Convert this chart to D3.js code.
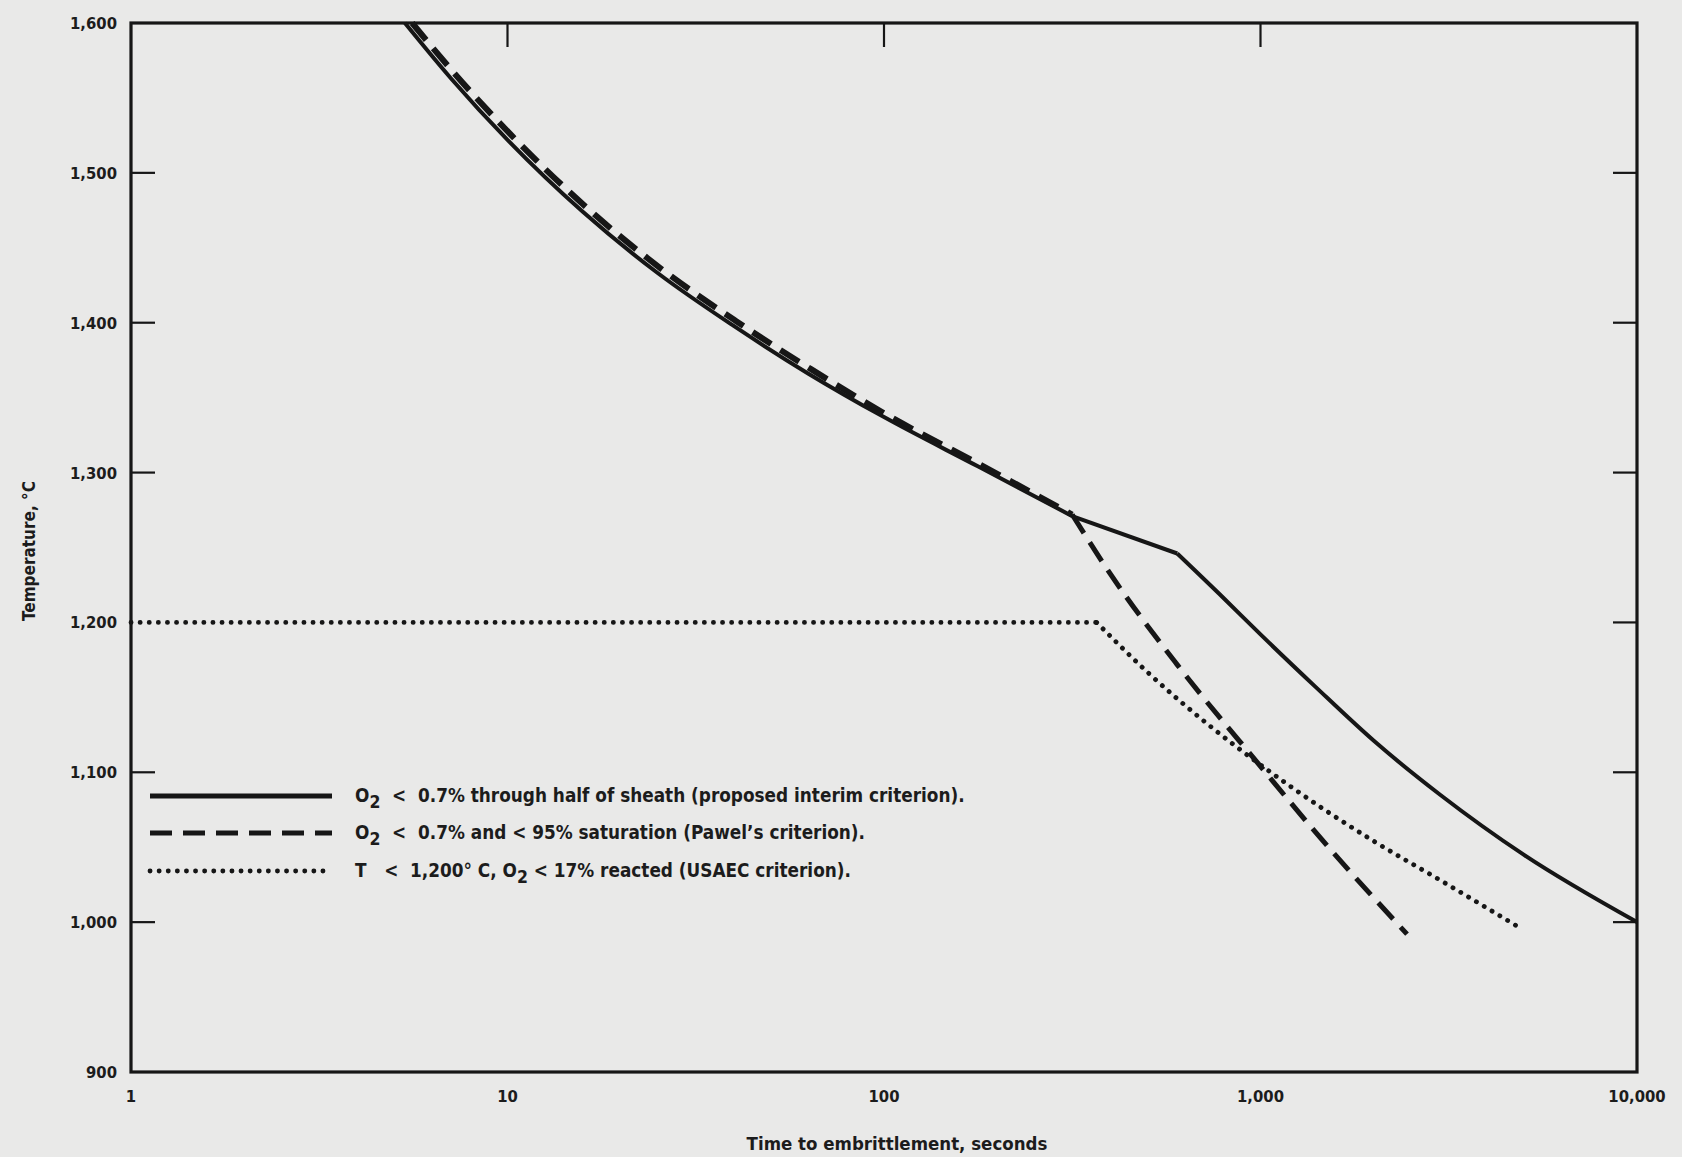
<!DOCTYPE html>
<html>
<head>
<meta charset="utf-8">
<script src="https://cdn.jsdelivr.net/npm/d3@7"></script>
<style>
body { margin: 0; background: #e9e9e8; }
svg text { font-family: "DejaVu Sans Condensed", "Liberation Sans Narrow", "Roboto Condensed", sans-serif; font-weight: bold; fill: #1c1c1c; white-space: pre; }
</style>
</head>
<body>
<div id="chart"></div>
<script>
// tick values
var xTicks = [1, 10, 100, 1000, 10000];
var xTickLabels = ["1", "10", "100", "1,000", "10,000"];
var yTicks = [900, 1000, 1100, 1200, 1300, 1400, 1500, 1600];
var yTickLabels = ["900", "1,000", "1,100", "1,200", "1,300", "1,400", "1,500", "1,600"];

// solid: O2 < 0.7% through half of sheath  [seconds, degC]
var solidUpper = [[5.34,1600],[7.08,1563],[10,1522],[15.85,1474],[25.1,1433],[39.8,1398],[63,1366],[100,1337],[178,1304],[316,1271]];
var solidMiddle = [[316,1271],[601,1246]];
var solidLower = [[601,1246],[800,1216],[1000,1192],[1400,1157],[2000,1121],[3000,1085],[5000,1045],[10000,1000]];

// dashed: Pawel's criterion
var dashedUpper = [[5.58,1600],[7.25,1566],[10.25,1525],[16.2,1477],[25.6,1436],[40.5,1401],[64,1369],[101,1339],[178,1306],[316,1272]];
var dashedLower = [[316,1272],[400,1232],[600,1172],[1000,1104],[1400,1060],[2450,992]];

// dotted: USAEC criterion
var dottedFlat = [[1,1200],[367,1200]];
var dottedLower = [[367,1200],[500,1167],[750,1129],[1000,1105],[1500,1074],[2000,1054],[3000,1028],[4900,996]];

var legendItems = [
    {dash: null, parts: [["O"], ["2", "sub"], ["  <  0.7% through half of sheath (proposed interim criterion)."]]},
    {dash: "22,11", parts: [["O"], ["2", "sub"], ["  <  0.7% and < 95% saturation (Pawel\u2019s criterion)."]]},
    {dash: "0.1,9", parts: [["T   <  1,200\u00b0 C, O"], ["2", "sub"], [" < 17% reacted (USAEC criterion)."]]}
];

var W = 1682, H = 1157;
var margin = {left: 131, right: 45, top: 23, bottom: 85};

var svg = d3.select("#chart").append("svg")
    .attr("width", W)
    .attr("height", H);

svg.append("rect").attr("width", W).attr("height", H).attr("fill", "#e9e9e8");

var x = d3.scaleLog().domain([1, 10000]).range([margin.left, W - margin.right]);
var y = d3.scaleLinear().domain([900, 1600]).range([H - margin.bottom, margin.top]);

var ink = "#161616";

// frame
svg.append("rect")
    .attr("x", x(1)).attr("y", y(1600))
    .attr("width", x(10000) - x(1)).attr("height", y(900) - y(1600))
    .attr("fill", "none").attr("stroke", ink).attr("stroke-width", 3.2);

// inward ticks (left 1,200 tick sits under the dotted line)
var tickLen = 24;
svg.append("g").selectAll("line")
    .data([1000, 1100, 1300, 1400, 1500]).enter().append("line")
    .attr("x1", x(1)).attr("x2", x(1) + tickLen)
    .attr("y1", function(d){ return y(d); }).attr("y2", function(d){ return y(d); })
    .attr("stroke", ink).attr("stroke-width", 2.2);

svg.append("g").selectAll("line")
    .data(yTicks.slice(1, -1)).enter().append("line")
    .attr("x1", x(10000)).attr("x2", x(10000) - tickLen)
    .attr("y1", function(d){ return y(d); }).attr("y2", function(d){ return y(d); })
    .attr("stroke", ink).attr("stroke-width", 2.2);

svg.append("g").selectAll("line")
    .data(xTicks.slice(1, -1)).enter().append("line")
    .attr("x1", function(d){ return x(d); }).attr("x2", function(d){ return x(d); })
    .attr("y1", y(1600)).attr("y2", y(1600) + tickLen)
    .attr("stroke", ink).attr("stroke-width", 2.2);

// tick labels
svg.append("g").selectAll("text")
    .data(yTicks).enter().append("text")
    .attr("x", x(1) - 14)
    .attr("y", function(d){ return y(d) + 6; })
    .attr("text-anchor", "end")
    .attr("font-size", 16.5)
    .text(function(d, i){ return yTickLabels[i]; });

svg.append("g").selectAll("text")
    .data(xTicks).enter().append("text")
    .attr("x", function(d){ return x(d); })
    .attr("y", y(900) + 30)
    .attr("text-anchor", "middle")
    .attr("font-size", 16.5)
    .text(function(d, i){ return xTickLabels[i]; });

// axis titles
svg.append("text")
    .attr("x", 897).attr("y", 1150)
    .attr("text-anchor", "middle")
    .attr("font-size", 18.5)
    .text("Time to embrittlement, seconds");

svg.append("text")
    .attr("transform", "translate(35,551) rotate(-90)")
    .attr("text-anchor", "middle")
    .attr("font-size", 17)
    .text("Temperature, \u00b0C");

// curves
var line = d3.line()
    .x(function(d){ return x(d[0]); })
    .y(function(d){ return y(d[1]); })
    .curve(d3.curveMonotoneX);

function drawCurve(data, width, dash){
    var p = svg.append("path")
        .datum(data)
        .attr("d", line)
        .attr("fill", "none")
        .attr("stroke", ink)
        .attr("stroke-width", width);
    if (dash){
        p.attr("stroke-dasharray", dash);
        if (dash.indexOf("0.1") == 0) p.attr("stroke-linecap", "round");
    }
    return p;
}

drawCurve(dottedFlat, 4.8, "0.1,9");
drawCurve(dottedLower, 4.8, "0.1,9");
drawCurve(dashedUpper, 6, "22,11");
drawCurve(dashedLower, 5, "22,11");
drawCurve(solidUpper, 4, null);
drawCurve(solidMiddle, 4, null);
drawCurve(solidLower, 4, null);

// legend
var legend = svg.append("g");
var rowY = [796, 833, 871];
legendItems.forEach(function(item, i){
    var ly = rowY[i];
    var l = legend.append("line")
        .attr("x1", 150).attr("x2", 332)
        .attr("y1", ly).attr("y2", ly)
        .attr("stroke", ink)
        .attr("stroke-width", item.dash && item.dash.indexOf("0.1") == 0 ? 4.8 : 5);
    if (item.dash){
        l.attr("stroke-dasharray", item.dash);
        if (item.dash.indexOf("0.1") == 0) l.attr("stroke-linecap", "round");
    }
    var t = legend.append("text")
        .attr("x", 355).attr("y", ly + 6)
        .attr("font-size", 18.8);
    item.parts.forEach(function(p){
        var ts = t.append("tspan").text(p[0]);
        if (p[1] == "sub"){
            ts.attr("dy", 6).attr("font-size", 17.5);
        } else if (t.selectAll("tspan").size() > 1){
            ts.attr("dy", -6);
        }
    });
});
</script>
</body>
</html>
